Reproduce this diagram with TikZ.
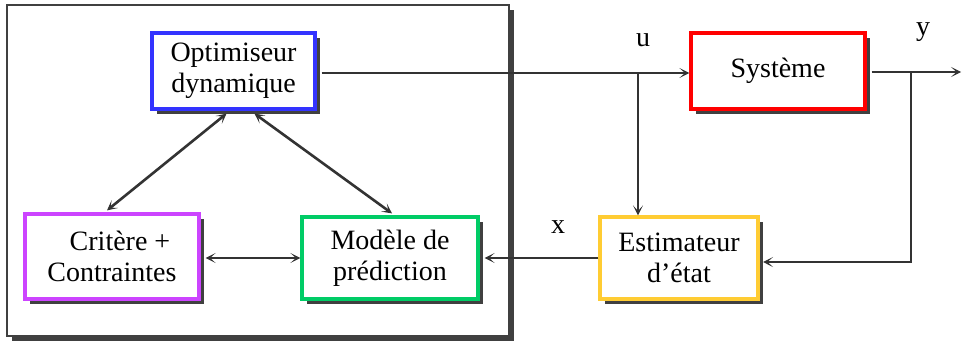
\documentclass[tikz,border=0pt]{standalone}
\usepackage{fontspec}
\setmainfont{Liberation Serif}
\usetikzlibrary{arrows.meta,shadows,calc}
\definecolor{lnc}{HTML}{333333}
\definecolor{shc}{HTML}{404040}
\definecolor{cblue}{HTML}{3333FF}
\definecolor{cred}{HTML}{FF0000}
\definecolor{cmag}{HTML}{CC44FF}
\definecolor{cgreen}{HTML}{00CC66}
\definecolor{cyel}{HTML}{FFCC33}
\begin{document}
\begin{tikzpicture}[x=1pt,y=-1pt,
  every node/.style={font=\fontsize{28}{31}\selectfont},
  blockbox/.style={draw, line width=3.2pt, fill=white, inner sep=0pt, align=center,
    drop shadow={shadow xshift=5pt, shadow yshift=-5pt, fill=shc, opacity=1}},
  framebox/.style={draw=shc, line width=2.5pt, fill=white, inner sep=0pt,
    drop shadow={shadow xshift=5pt, shadow yshift=-5pt, fill=shc, opacity=1}},
  conn/.style={draw=lnc, line width=2.6pt, >={Stealth[length=10pt,width=10pt,inset=5.5pt]}},
  sig/.style={inner sep=0pt, anchor=base}
]
\useasboundingbox (0,0) rectangle (963,345);
\node[framebox, minimum width=502pt, minimum height=331pt] (frame) at (258,170.5) {};
\node[blockbox, draw=cblue, minimum width=163pt, minimum height=76pt] (opt) at (233.5,71) {Optimiseur\\dynamique};
\node[blockbox, draw=cmag, minimum width=174pt, minimum height=85pt] (crit) at (112,256.5) {\hspace{16pt}Critère +\\Contraintes};
\node[blockbox, draw=cgreen, minimum width=176pt, minimum height=82pt] (mod) at (390,258) {Modèle de\\prédiction};
\node[blockbox, draw=cred, minimum width=174pt, minimum height=76pt] (sys) at (778,71) {Système};
\node[blockbox, draw=cyel, minimum width=158pt, minimum height=82pt] (est) at (679,258) {Estimateur\\d’état};
\node[sig] (lu) at (643,47) {u};
\node[sig] (ly) at (923,36) {y};
\node[sig] (lx) at (558,233) {x};
\coordinate (ubr) at (638,73);
\coordinate (ybr) at (911,72);
\coordinate (yout) at (961,72);
\coordinate (ycorner) at (911,262);
\coordinate (estin) at (763,262);
\draw[conn,->] ($(opt.east |- ubr)+(5,0)$) -- (sys.west |- ubr);
\draw[conn,->] (ubr) -- (ubr |- est.north);
\draw[conn,->] ($(sys.east |- ybr)+(5,0)$) -- (yout);
\draw[conn,->] (ybr) -- (ycorner) -- (estin);
\draw[conn,->] (est.west) -- ([xshift=5pt]mod.east);
\draw[conn,<->] ($(crit.east |- mod.west)+(5,0)$) -- (mod.west);
\draw[conn,<->] ($(opt.south)+(-7,3)$) -- ($(crit.north)+(-5,-2)$);
\draw[conn,<->] ($(opt.south)+(21,3)$) -- ($(mod.north)+(2,-2)$);
\end{tikzpicture}
\end{document}
